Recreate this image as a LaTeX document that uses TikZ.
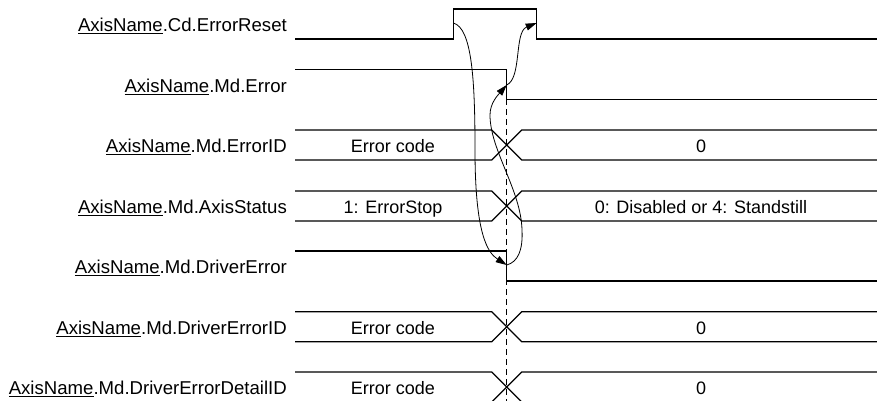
\documentclass[tikz,border=0pt]{standalone}
\usepackage{fontspec}
\setmainfont{Liberation Sans}
\usetikzlibrary{arrows.meta}

\tikzset{
  sig/.style={line width=1.2pt},
  flow/.style={line width=0.8pt, -{Triangle[length=11pt,width=7pt]}},
  lbl/.style={anchor=base east, inner sep=0pt, font=\fontsize{18.6}{20}\selectfont},
  val/.style={anchor=base, inner sep=0pt, font=\fontsize{18}{20}\selectfont},
}

\begin{document}
\begin{tikzpicture}[x=1pt, y=-1pt]
        \useasboundingbox (0,0) rectangle (877,401);

        % Bit signals
        \node[lbl] (lReset) at (287,31.7) {\underline{AxisName}.Cd.ErrorReset};
        \node[lbl] (lError) at (287,92.3) {\underline{AxisName}.Md.Error};
        \node[lbl] (lDriverError) at (287,273.7) {\underline{AxisName}.Md.DriverError};

        \draw[sig] (295,39) -- (453.3,39) -- (453.3,9) -- (536.7,9) -- (536.7,39) -- (877,39);
        \draw[sig] (295,69.5) -- (506.7,69.5) -- (506.7,99.3) -- (877,99.3);
        \draw[sig] (295,251) -- (506.7,251) -- (506.7,281) -- (877,281);

        % Word signals
        \foreach \y/\nm/\lv/\rv in {130/ErrorID/Error code/0,
                191/AxisStatus/1: ErrorStop/0: Disabled or 4: Standstill,
                311.7/DriverErrorID/Error code/0,
                372/DriverErrorDetailID/Error code/0} {
            \draw[sig] (295,\y) -- (491.7,\y) -- (521.7,\y+30) -- (877,\y+30);
            \draw[sig] (295,\y+30) -- (491.7,\y+30) -- (521.7,\y) -- (877,\y);
            \node[lbl] (l\nm) at (287,\y+22.7) {\underline{AxisName}.Md.\nm};
            \node[val] (v\nm) at (393,\y+22.7) {\lv};
            \node[val] (w\nm) at (701,\y+22.7) {\rv};
        }

        % Timing line
        \draw[line width=0.8pt, dash pattern=on 6pt off 4pt] (506.7,99.3) -- (506.7,401);

        % Edges
        \coordinate (rstRise) at (453.3,23);
        \coordinate (rstFall) at (536.7,23);
        \coordinate (errFall) at (506.7,85);
        \coordinate (drvFall) at (506.7,265);

        % Sequence arrows
        \draw[flow] (rstRise) .. controls (472,28) and (475,80) .. (475,150)
            .. controls (475,235) and (488,253) .. (drvFall);
        \draw[flow] (drvFall) .. controls (518,262) and (523,250) .. (522,230)
            .. controls (521,190) and (490,150) .. (490,115)
            .. controls (490,103) and (498,95) .. (errFall);
        \draw[flow] (errFall) .. controls (522,78) and (514,32) .. (rstFall);
\end{tikzpicture}
\end{document}
